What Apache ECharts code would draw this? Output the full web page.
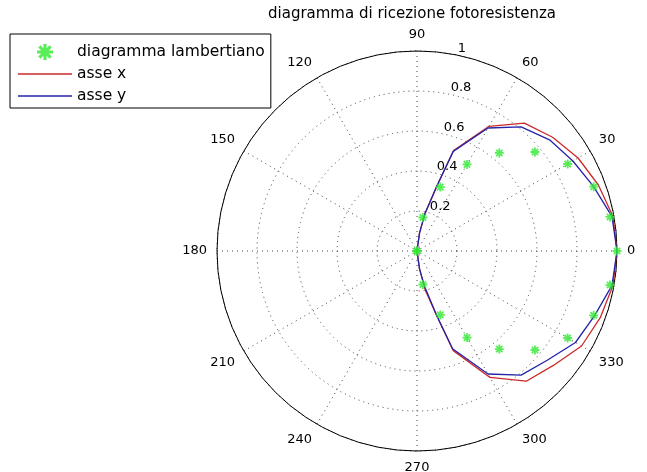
<!DOCTYPE html>
<html>
<head>
<meta charset="utf-8">
<script src="https://cdn.jsdelivr.net/npm/echarts@6/dist/echarts.min.js"></script>
<style>html,body{margin:0;padding:0;background:#fff}#c{width:647px;height:472px}</style>
</head>
<body>
<div id="c"></div>
<script>
const titleText = 'diagramma di ricezione fotoresistenza';
const angleTicks = [0, 30, 60, 90, 120, 150, 180, 210, 240, 270, 300, 330];
const radiusTicks = [0.2, 0.4, 0.6, 0.8, 1];
// Lambertian diagram (green stars)
const lambAngles = [-90, -80, -70, -60, -50, -40, -30, -20, -10, 0, 10, 20, 30, 40, 50, 60, 70, 80, 90];
const lambR = [0, 0.17, 0.34, 0.5, 0.64, 0.77, 0.87, 0.94, 0.98, 1, 0.98, 0.94, 0.87, 0.77, 0.64, 0.5, 0.34, 0.17, 0];
// Measured curves
const curveAngles = [-90, -82, -78, -73, -70, -60, -50, -40, -30, -20, -10, 0, 10, 20, 30, 40, 50, 60, 70, 73, 78, 82, 90];
const rAsseX = [0, 0.09, 0.2, 0.34, 0.53, 0.73, 0.85, 0.89, 0.95, 0.975, 0.995, 1, 0.995, 0.965, 0.93, 0.885, 0.835, 0.72, 0.535, 0.34, 0.19, 0.09, 0];
const rAsseY = [0, 0.09, 0.18, 0.34, 0.52, 0.71, 0.81, 0.85, 0.915, 0.945, 0.99, 1, 0.99, 0.94, 0.90, 0.865, 0.81, 0.71, 0.53, 0.34, 0.19, 0.09, 0];

const norm = a => (a + 360) % 360;
const pairs = (rs, as) => rs.map((r, i) => [r, norm(as[i])]);

const starPath = 'path://M-1,-5 L1,-5 L1,5 L-1,5 Z M-5,-1 L5,-1 L5,1 L-5,1 Z M2.83,4.24 L-4.24,-2.83 L-2.83,-4.24 L4.24,2.83 Z M-2.83,4.24 L-4.24,2.83 L2.83,-4.24 L4.24,-2.83 Z';
const lineIcon = 'path://M0,0 L54,0 L54,1.4 L0,1.4 Z';
const FONT = 'DejaVu Sans';
const center = [417, 251];
const R = 200;
const RED = '#cc2a2a', BLUE = '#2424aa', GREEN = '#2fe82f';

const chart = echarts.init(document.getElementById('c'), null, {renderer: 'canvas'});
chart.setOption({
  backgroundColor: '#fff',
  animation: false,
  title: {
    text: titleText, left: 268, top: 7, padding: 0,
    textStyle: {fontFamily: FONT, fontSize: 15, fontWeight: 'normal', color: '#000'}
  },
  legend: {
    orient: 'vertical', left: 10, top: 34,
    padding: [10, 6, 4, 8], itemGap: 6, itemTextGap: 7,
    itemWidth: 54, itemHeight: 16,
    backgroundColor: '#fff', borderColor: '#000', borderWidth: 1,
    textStyle: {fontFamily: FONT, fontSize: 15.5, color: '#000'},
    data: [
      {name: 'diagramma lambertiano', icon: starPath, itemStyle: {color: GREEN}},
      {name: 'asse x', icon: lineIcon, itemStyle: {color: RED}},
      {name: 'asse y', icon: lineIcon, itemStyle: {color: BLUE}}
    ]
  },
  polar: [
    {center: center, radius: R},
    {center: center, radius: R}
  ],
  angleAxis: [
    {
      polarIndex: 0, type: 'value', min: 0, max: 360, interval: 30,
      startAngle: 0, clockwise: false,
      axisLine: {show: true, lineStyle: {color: '#000', width: 1}},
      axisTick: {show: false},
      axisLabel: {show: true, margin: 10, fontFamily: FONT, fontSize: 13, color: '#000',
        formatter: v => angleTicks.indexOf(v) >= 0 ? String(v) : ''},
      splitLine: {show: true, lineStyle: {color: '#444', type: [1, 4], width: 1}}
    },
    {
      polarIndex: 1, type: 'value', min: 0, max: 360, startAngle: 80, clockwise: false,
      axisLine: {show: false}, axisTick: {show: false}, axisLabel: {show: false}, splitLine: {show: false}
    }
  ],
  radiusAxis: [
    {
      polarIndex: 0, type: 'value', min: 0, max: 1, interval: 0.2,
      axisLine: {show: false}, axisTick: {show: false}, axisLabel: {show: false},
      splitLine: {show: true, lineStyle: {color: '#444', type: [1, 4], width: 1}}
    },
    {
      polarIndex: 1, type: 'value', min: 0, max: 1, interval: 0.2,
      axisLine: {show: false}, axisTick: {show: false}, splitLine: {show: false},
      axisLabel: {show: true, margin: -6, align: 'left', verticalAlign: 'bottom',
        fontFamily: FONT, fontSize: 13, color: '#000',
        formatter: v => radiusTicks.indexOf(Math.round(v * 10) / 10) >= 0 ? String(Math.round(v * 10) / 10) : ''}
    }
  ],
  series: [
    {
      name: 'diagramma lambertiano', type: 'scatter', coordinateSystem: 'polar', polarIndex: 0,
      symbol: starPath, symbolSize: 9, itemStyle: {color: GREEN},
      data: pairs(lambR, lambAngles), z: 3
    },
    {
      name: 'asse x', type: 'line', coordinateSystem: 'polar', polarIndex: 0,
      showSymbol: false, symbol: 'none', lineStyle: {color: RED, width: 1.3},
      itemStyle: {color: RED},
      data: pairs(rAsseX, curveAngles), z: 2
    },
    {
      name: 'asse y', type: 'line', coordinateSystem: 'polar', polarIndex: 0,
      showSymbol: false, symbol: 'none', lineStyle: {color: BLUE, width: 1.3},
      itemStyle: {color: BLUE},
      data: pairs(rAsseY, curveAngles), z: 2
    }
  ]
});
</script>
</body>
</html>
